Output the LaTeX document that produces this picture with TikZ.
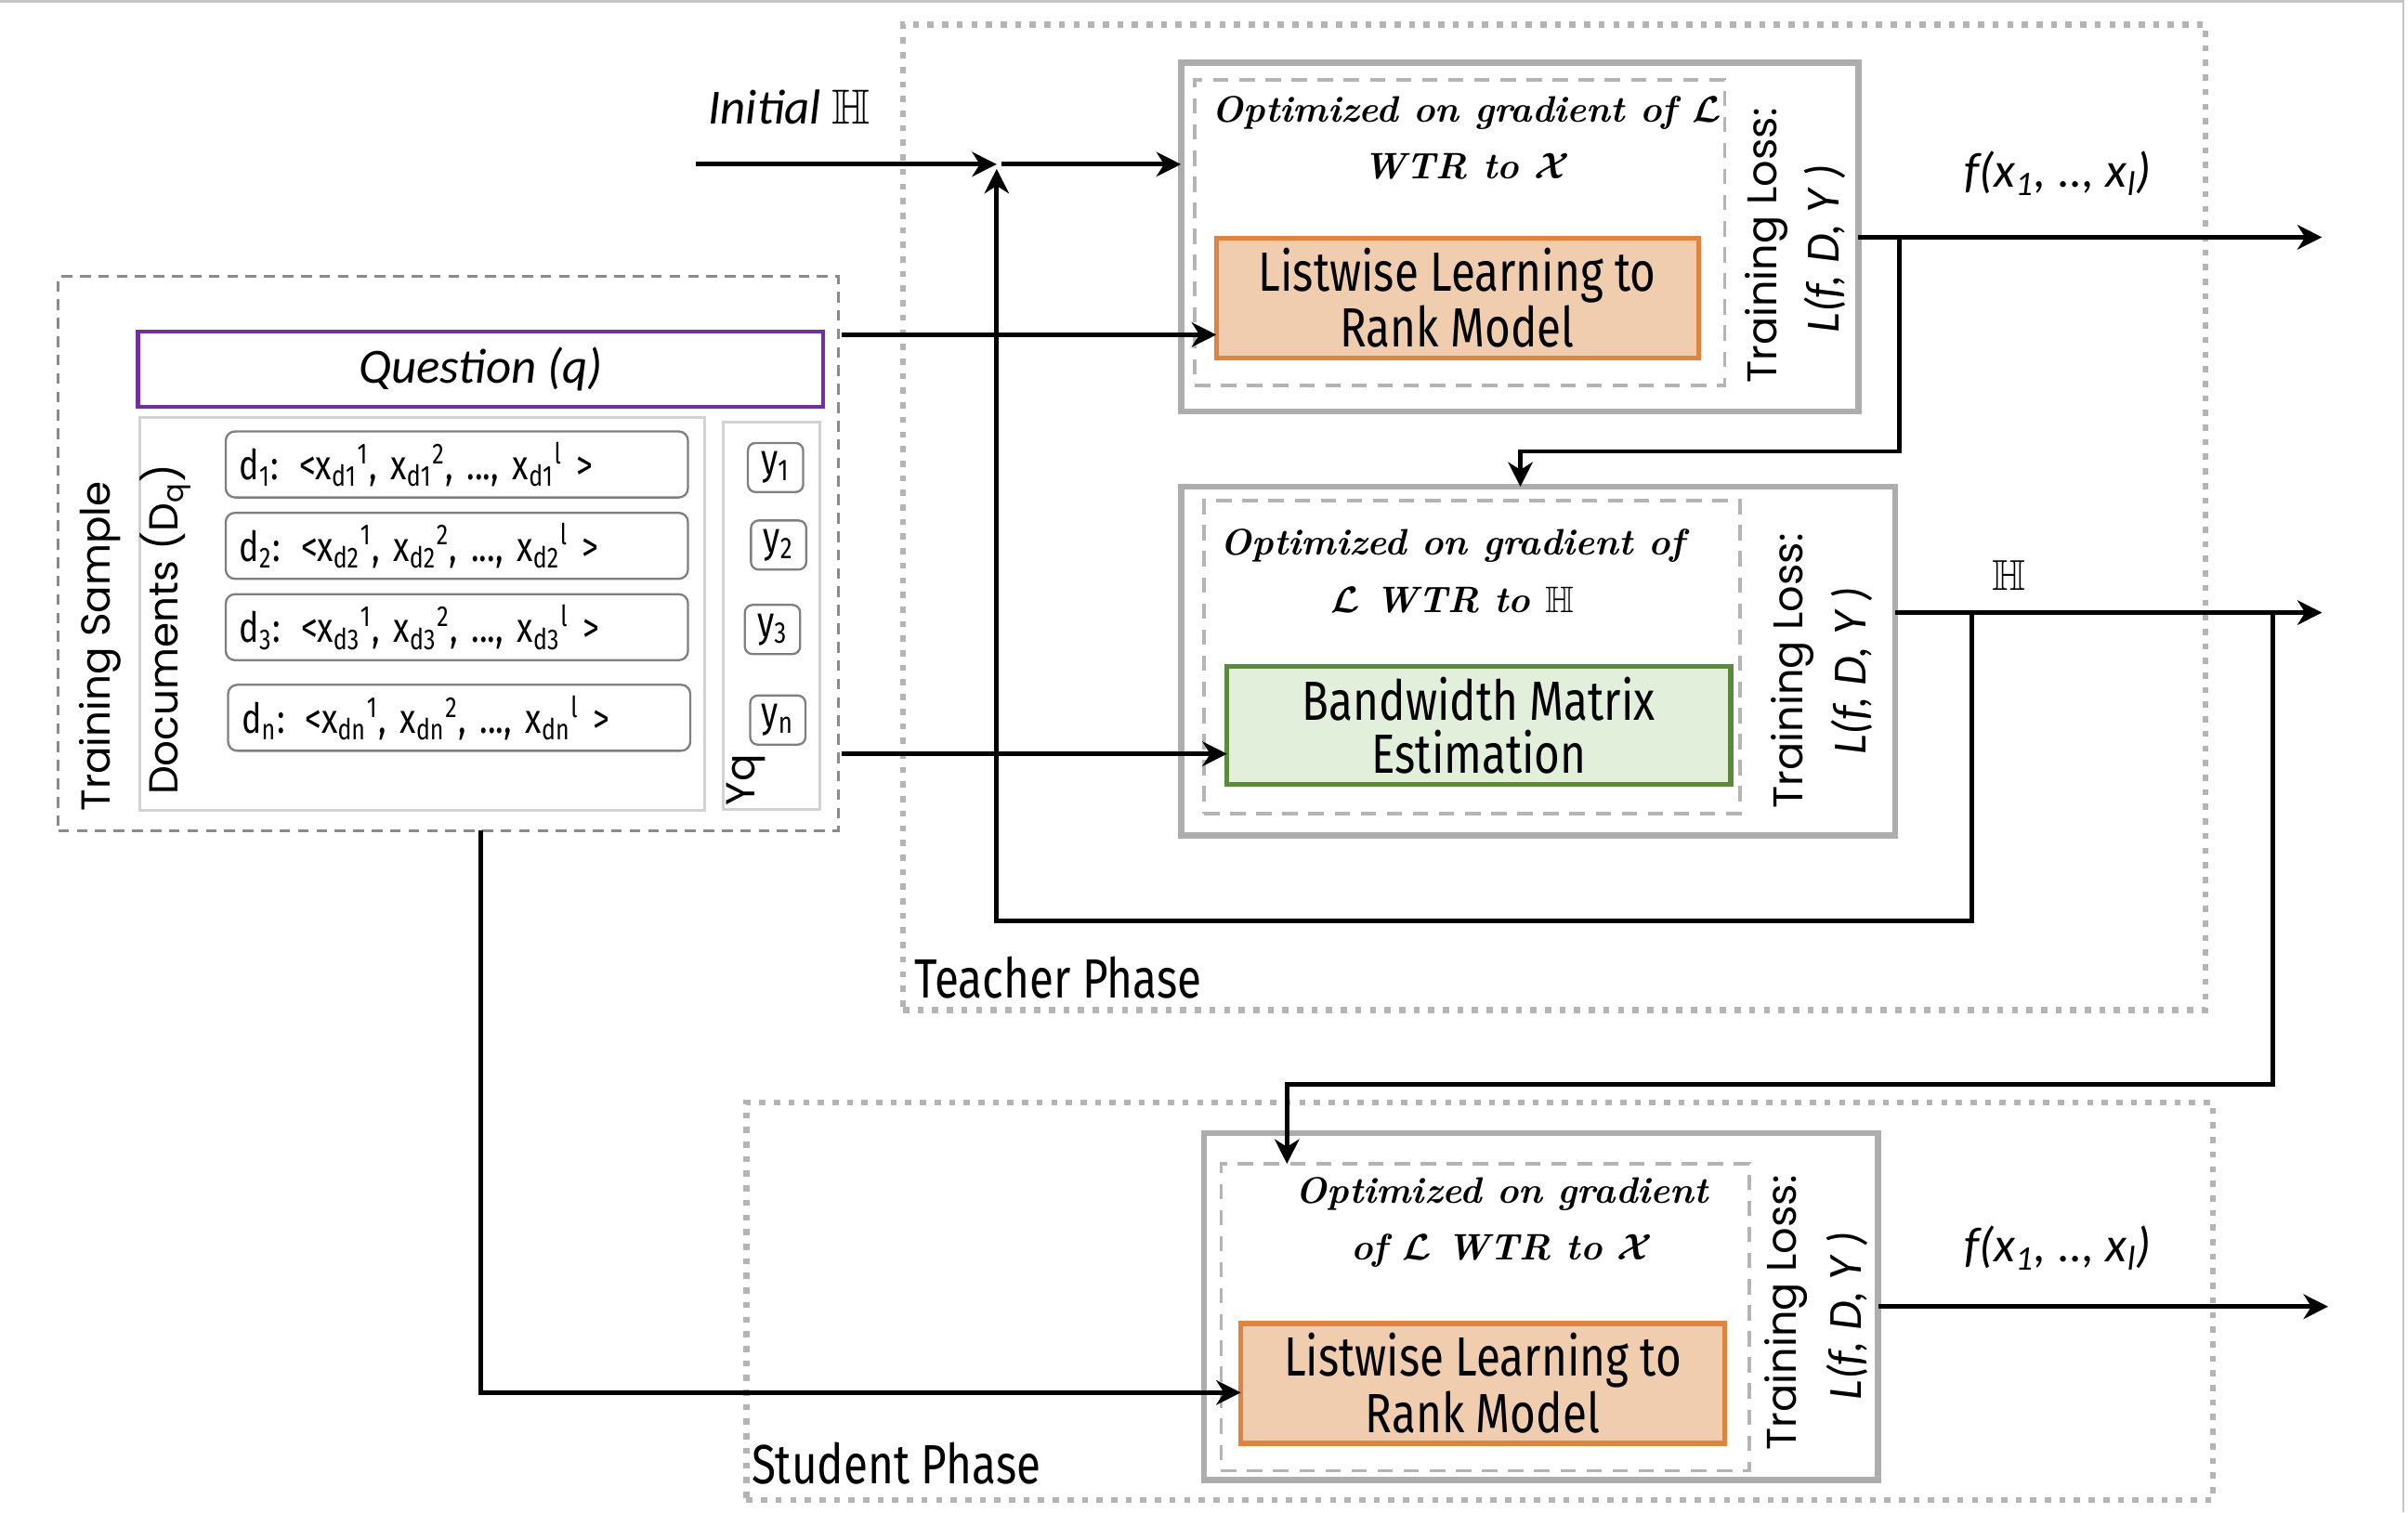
\documentclass[tikz,border=0pt]{standalone}
\usepackage{amssymb}
\usepackage{bm}
\usepackage{fontspec}
\newfontfamily\geofont{Poppins}
\newfontfamily\condfont{Fira Sans}[FakeStretch=0.8]
\newfontfamily\califont{Carlito}
\usetikzlibrary{arrows.meta}
\definecolor{boxgray}{HTML}{ADADAD}
\definecolor{dashgray}{HTML}{B4B4B4}
\definecolor{tsgray}{HTML}{8A8A8A}
\definecolor{docgray}{HTML}{D2D2D2}
\definecolor{rgray}{HTML}{7F7F7F}
\definecolor{qpurple}{HTML}{7030A0}
\definecolor{ofill}{HTML}{F1CDB0}
\definecolor{oline}{HTML}{E0833F}
\definecolor{gfill}{HTML}{E2EFDA}
\definecolor{gline}{HTML}{5B8A3C}
\newcommand\docline[1]{d\textsubscript{#1}: <x\textsubscript{d#1}\textsuperscript{1}, x\textsubscript{d#1}\textsuperscript{2}, ..., x\textsubscript{d#1}\textsuperscript{l} >}
\tikzset{
  arr/.style={line width=1.5pt,-{Stealth[length=8pt,width=8pt,inset=2.5pt]}},
  phasebox/.style={draw=dashgray,line width=2pt,dash pattern=on 2pt off 2.75pt,inner sep=0pt,outer sep=0pt},
  tsbox/.style={draw=tsgray,line width=0.8pt,dash pattern=on 3.5pt off 2.5pt,inner sep=0pt,outer sep=0pt},
  modelbox/.style={draw=boxgray,line width=2pt,inner sep=0pt,outer sep=0pt},
  innerbox/.style={draw=dashgray,line width=1pt,dash pattern=on 5pt off 3.5pt,inner sep=0pt,outer sep=0pt},
  obox/.style={draw=oline,fill=ofill,line width=1.6pt,inner sep=0pt,outer sep=0pt,align=center,font=\condfont\fontsize{18pt}{17pt}\selectfont},
  gbox/.style={draw=gline,fill=gfill,line width=1.6pt,inner sep=0pt,outer sep=0pt,align=center,font=\condfont\fontsize{18pt}{17pt}\selectfont},
  docbox/.style={draw=rgray,line width=0.7pt,rounded corners=3pt,minimum height=21.5pt,inner xsep=4.5pt,inner ysep=0pt,text width=141.5pt,align=left,font=\condfont\fontsize{13.5pt}{14pt}\selectfont},
  ybox/.style={draw=rgray,line width=0.7pt,rounded corners=2.5pt,inner sep=0pt,minimum width=18pt,minimum height=16pt,font=\condfont\fontsize{14pt}{14pt}\selectfont},
  lightbox/.style={draw=docgray,line width=1pt,inner sep=0pt,outer sep=0pt},
  geolbl/.style={font=\geofont\fontsize{13.2pt}{14pt}\selectfont,inner sep=0pt,rotate=90},
  losslbl/.style={font=\geofont\fontsize{13.5pt}{14pt}\selectfont,inner sep=0pt,rotate=90},
  lossfn/.style={font=\califont\itshape\fontsize{15.5pt}{16pt}\selectfont,inner sep=0pt,rotate=90},
  handtxt/.style={font=\bfseries\itshape\fontsize{12pt}{18.5pt}\selectfont,align=center,inner sep=0pt},
  caltxt/.style={font=\califont\itshape\fontsize{16pt}{18pt}\selectfont,inner sep=0pt},
  phaselbl/.style={font=\condfont\fontsize{18pt}{19pt}\selectfont,inner sep=0pt,anchor=west}
}
\begin{document}
\begin{tikzpicture}[x=0.5pt,y=-0.5pt]
\useasboundingbox (0,0) rectangle (1568,985);
% page edge lines
\draw[gray!45,line width=0.8pt] (0,1) -- (1565,1) -- (1565,985);

% phase boxes
\node[phasebox,minimum width=424pt,minimum height=321pt] (teacher) at (1012,337) {};
\node[phasebox,minimum width=477.5pt,minimum height=129.5pt] (student) at (963.5,847.5) {};
\node[phaselbl] (tlabel) at (595,637) {Teacher Phase};
\node[phaselbl] (slabel) at (489,953) {Student Phase};

% training sample
\node[tsbox,minimum width=254pt,minimum height=180.5pt] (TS) at (292,360.5) {};
\node[draw=qpurple,line width=1.4pt,inner sep=0pt,outer sep=0pt,minimum width=223pt,minimum height=24.5pt,font=\califont\itshape\fontsize{16pt}{18pt}\selectfont] (Q) at (313,240.5) {Question (q)};
\node[lightbox,minimum width=184pt,minimum height=128pt] (D) at (275,400) {};
\node[lightbox,minimum width=31.5pt,minimum height=126pt] (Y) at (502.5,401) {};
\node[geolbl] (tslbl) at (65,421) {Training Sample};
\node[geolbl] (dlbl) at (108,410) {Documents (D\textsubscript{q})};
\node[geolbl] (ylbl) at (486,508) {Yq};
\node[docbox] (d1) at (297.5,302.5) {\docline{1}};
\node[docbox] (d2) at (297.5,355.5) {\docline{2}};
\node[docbox] (d3) at (297.5,408.5) {\docline{3}};
\node[docbox] (dn) at (299,467.5) {\docline{n}};
\node[ybox] (y1) at (505,304.5) {y\textsubscript{1}};
\node[ybox] (y2) at (507,355) {y\textsubscript{2}};
\node[ybox] (y3) at (503,410) {y\textsubscript{3}};
\node[ybox] (yn) at (506.5,469) {y\textsubscript{n}};

% teacher model 1
\node[modelbox,minimum width=220.5pt,minimum height=113.5pt] (T1) at (989.5,154.5) {};
\node[innerbox,minimum width=172.5pt,minimum height=99.5pt] (I1) at (950.5,151.5) {};
\node[handtxt] (h1) at (955,90) {Optimized on gradient of $\bm{\mathcal{L}}$\\WTR to $\bm{\mathcal{X}}$};
\node[obox,minimum width=157pt,minimum height=39pt] (O1) at (949,194) {Listwise Learning to\\Rank Model};
\node[losslbl] (l1a) at (1150,160) {Training Loss:};
\node[lossfn] (l1b) at (1188,162) {L(f, D, Y )};

% teacher model 2
\node[modelbox,minimum width=232.5pt,minimum height=113.5pt] (T2) at (1001.5,430.5) {};
\node[innerbox,minimum width=174.5pt,minimum height=102pt] (I2) at (958.5,428) {};
\node[handtxt] (h2) at (946,372) {Optimized on gradient of\\$\bm{\mathcal{L}}$ WTR to $\mathbb{H}$};
\node[gbox,minimum width=164pt,minimum height=38.5pt] (G) at (963,472.5) {Bandwidth Matrix\\Estimation};
\node[losslbl] (l2a) at (1167,437) {Training Loss:};
\node[lossfn] (l2b) at (1206,437) {L(f, D, Y )};

% student model
\node[modelbox,minimum width=219.5pt,minimum height=113pt] (T3) at (1003.5,851) {};
\node[innerbox,minimum width=172pt,minimum height=100pt] (I3) at (967,858) {};
\node[handtxt] (h3) at (978,796) {Optimized on gradient\\of $\bm{\mathcal{L}}$ WTR to $\bm{\mathcal{X}}$};
\node[obox,minimum width=157.5pt,minimum height=39pt] (O3) at (965.5,901) {Listwise Learning to\\Rank Model};
\node[losslbl] (l3a) at (1163,855) {Training Loss:};
\node[lossfn] (l3b) at (1203,857) {L(f, D, Y )};

% labels on connectors
\node[caltxt] (inilbl) at (514,70) {Initial $\mathbb{H}$};
\node[caltxt] (f1lbl) at (1340,113) {f(x\textsubscript{1}, .., x\textsubscript{l})};
\node[caltxt] (f3lbl) at (1340,813) {f(x\textsubscript{1}, .., x\textsubscript{l})};
\node[inner sep=0pt,font=\fontsize{14pt}{16pt}\selectfont] (hlbl) at (1308,375) {$\mathbb{H}$};

% coordinates
\coordinate (ini) at (453,107);
\coordinate (jn) at (649,107);
\coordinate (out1) at (1512,154.5);
\coordinate (b1) at (1237,154.5);
\coordinate (k1) at (990,294);
\coordinate (out2) at (1512,399);
\coordinate (b2) at (1284,399);
\coordinate (k2) at (649,600);
\coordinate (b3) at (1480,399);
\coordinate (k3) at (838,706);
\coordinate (qa) at (548,218);
\coordinate (ya) at (548,491);
\coordinate (k4) at (313,907);
\coordinate (out3) at (1516,851);

% connectors
\draw[arr] (ini) -- (jn);
\draw[arr] ([xshift=1.5pt]jn) -- (jn -| T1.west);
\draw[arr] (T1.east) -- (out1);
\draw[arr] (b1) |- (k1) -- (k1 |- T2.north);
\draw[arr] (T2.east |- out2) -- (out2);
\draw[arr] (b2) |- (k2) -- ([yshift=-1.5pt]jn);
\draw[arr] (b3) |- (k3) -- (k3 |- I3.north);
\draw[arr] (qa) -- (qa -| O1.west);
\draw[arr] (ya) -- (ya -| G.west);
\draw[arr] (TS.south -| k4) -- (k4) -- (k4 -| O3.west);
\draw[arr] (T3.east) -- (out3);
\end{tikzpicture}
\end{document}
